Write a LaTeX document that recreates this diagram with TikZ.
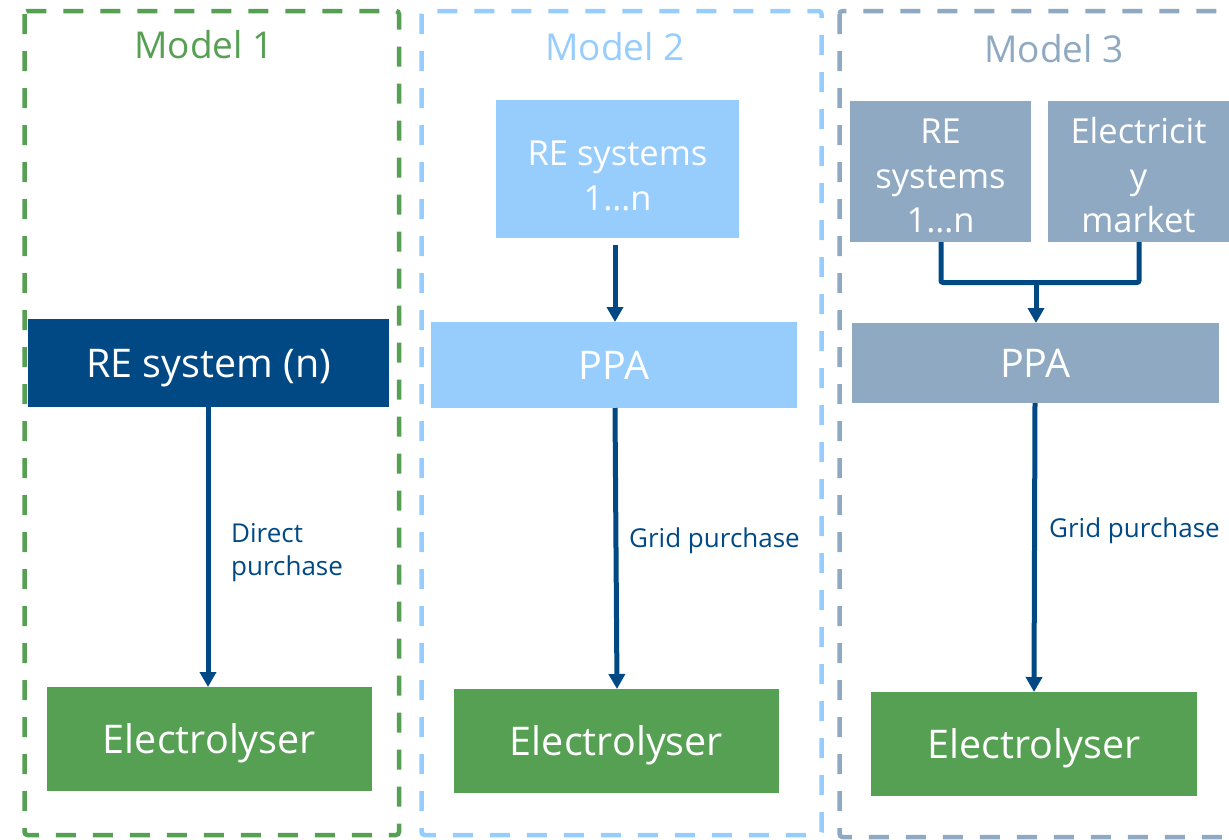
\documentclass[tikz,border=0pt]{standalone}
\usepackage{fontspec}
\setmainfont{Open Sans}
\usetikzlibrary{arrows.meta}
\definecolor{mgreen}{HTML}{55A052}
\definecolor{mlight}{HTML}{97CDFD}
\definecolor{mgrey}{HTML}{8EA9C1}
\definecolor{mdark}{HTML}{004985}
\newcommand{\boxlines}[2]{\raisebox{#1}[\height][\depth]{\begin{tabular}{@{}c@{}}#2\end{tabular}}}
\begin{document}
\begin{tikzpicture}[x=1pt,y=-1pt,
  box/.style={inner sep=0pt, outer sep=0pt, text=white, align=center, anchor=north west},
  bigtxt/.style={font=\fontsize{39.5}{47}\selectfont, text height=28pt, text depth=0pt},
  smalltxt/.style={font=\fontsize{34.5}{44.5}\selectfont},
  title/.style={anchor=base, inner sep=0pt, font=\fontsize{37}{40}\selectfont},
  lbl/.style={anchor=west, inner sep=0pt, align=left, text=mdark, font=\fontsize{26}{33}\selectfont},
  frame/.style={line width=4.5pt, dash pattern=on 20pt off 17pt, rounded corners=3pt},
  conn/.style={draw=mdark, line width=5pt},
  arr/.style={conn, -{Triangle[width=16pt,length=15pt]}}
]
\useasboundingbox (0,0) rectangle (1229,839);
\clip (0,0) rectangle (1229,839);

% frames
\draw[frame, mgreen] (24.5,11) rectangle (399,835);
\draw[frame, mlight] (421.5,11) rectangle (821.5,835);
\draw[frame, mgrey] (839.5,11) rectangle (1260,837);

% titles
\node[title, text=mgreen] (t1) at (204,58) {Model 1};
\node[title, text=mlight] (t2) at (615,60) {Model 2};
\node[title, text=mgrey] (t3) at (1054,62) {Model 3};

% Model 1
\node[box, bigtxt, fill=mdark, minimum width=361pt, minimum height=88pt] (re1) at (28,319) {RE system (n)};
\node[box, bigtxt, fill=mgreen, minimum width=325pt, minimum height=104pt] (el1) at (47,687) {Electrolyser};
\draw[arr] (re1.south -| 208,0) -- (el1.north -| 208,0);
\node[lbl] (l1) at (231,553) {Direct\\purchase};

% Model 2
\node[box, smalltxt, fill=mlight, minimum width=243pt, minimum height=138pt] (re2) at (496,100) {\boxlines{-10pt}{RE systems\\1…n}};
\node[box, bigtxt, fill=mlight, minimum width=366pt, minimum height=86pt] (ppa2) at (431,322) {PPA};
\node[box, bigtxt, fill=mgreen, minimum width=325pt, minimum height=104pt] (el2) at (454,689) {Electrolyser};
\draw[arr, shorten <=7pt] (re2.south -| 615,0) -- (ppa2.north -| 615,0);
\draw[arr] (ppa2.south -| 615,0) -- (el2.north -| 617,0);
\node[lbl] (l2) at (629,541) {Grid purchase};

% Model 3
\node[box, smalltxt, fill=mgrey, minimum width=181pt, minimum height=141pt] (re3) at (850,101) {\boxlines{-8pt}{RE\\systems\\1…n}};
\node[box, smalltxt, fill=mgrey, minimum width=181pt, minimum height=141pt] (mk3) at (1048,101) {\boxlines{-8pt}{Electricit\\y\\market}};
\node[box, bigtxt, fill=mgrey, minimum width=367pt, minimum height=80pt] (ppa3) at (852,323) {PPA};
\node[box, bigtxt, fill=mgreen, minimum width=326pt, minimum height=104pt] (el3) at (871,692) {Electrolyser};
\coordinate (j3) at (1036,282.5);
\draw[conn, rounded corners=2pt] (re3.south -| 941,0) |- (j3) -| (mk3.south -| 1139,0);
\draw[arr] (j3) -- (ppa3.north -| j3);
\draw[arr] (ppa3.south -| 1035,0) -- (el3.north -| 1034,0);
\node[lbl] (l3) at (1049,531) {Grid purchase};
\end{tikzpicture}
\end{document}
